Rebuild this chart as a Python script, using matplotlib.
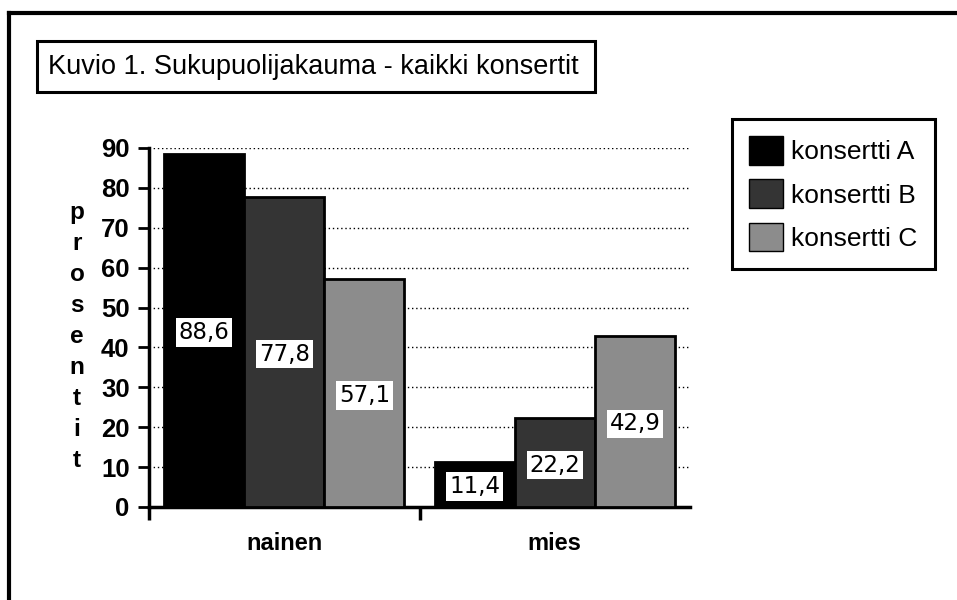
import matplotlib
matplotlib.use("Agg")
import matplotlib.pyplot as plt
import numpy as np
from matplotlib.patches import Rectangle, Patch
from matplotlib.lines import Line2D

categories = ["nainen", "mies"]
series_names = ["konsertti A", "konsertti B", "konsertti C"]
values_a = [88.6, 11.4]
values_b = [77.8, 22.2]
values_c = [57.1, 42.9]
value_labels_a = ["88,6", "11,4"]
value_labels_b = ["77,8", "22,2"]
value_labels_c = ["57,1", "42,9"]
y_ticks = [0, 10, 20, 30, 40, 50, 60, 70, 80, 90]
title = "Kuvio 1. Sukupuolijakauma - kaikki konsertit"
y_label = "prosentit"

colors = ["#000000", "#343434", "#8c8c8c"]

plt.rcParams["font.family"] = ["Liberation Sans", "DejaVu Sans"]

W, H = 957, 600
fig = plt.figure(figsize=(W / 100, H / 100), dpi=100)
ax = fig.add_axes([149 / W, 1 - 507 / H, (690 - 149) / W, (507 - 148) / H])

x = np.arange(len(categories))
width = 0.296
series = [values_a, values_b, values_c]
labels = [value_labels_a, value_labels_b, value_labels_c]

for i, (vals, labs) in enumerate(zip(series, labels)):
    pos = x + (i - 1) * width
    ax.bar(pos, vals, width, color=colors[i], edgecolor="black", linewidth=2, zorder=3)
    for p, v, lab in zip(pos, vals, labs):
        ax.text(p, v / 2 - 0.6, lab, ha="center", va="center", fontsize=16.5,
                family="DejaVu Sans", zorder=4,
                bbox=dict(facecolor="white", edgecolor="none", pad=2))

ax.set_xlim(-0.5, 1.5)
ax.set_ylim(0, 90)
ax.set_yticks(y_ticks)
ax.set_yticklabels([str(t) for t in y_ticks], fontsize=18.5, fontweight="bold")
ax.tick_params(axis="y", direction="out", length=8, width=2, pad=6)

ax.set_xticks(x)
ax.set_xticklabels(categories, fontsize=17, fontweight="bold")
ax.tick_params(axis="x", which="major", length=0, pad=18)
ax.set_xticks([-0.5, 0.5], minor=True)
ax.tick_params(axis="x", which="minor", direction="out", length=9, width=2.5)

ax.yaxis.grid(True, color="black", linestyle=(0, (1, 2)), linewidth=1, zorder=0)
ax.set_axisbelow(True)

for s in ["top", "right"]:
    ax.spines[s].set_visible(False)
for s in ["left", "bottom"]:
    ax.spines[s].set_linewidth(2.5)

ax.set_ylabel("\n".join(y_label), rotation=0, fontsize=17.5, fontweight="bold",
              linespacing=1.45, ha="center", va="center")
ax.yaxis.set_label_coords(-0.133, 0.475)

# legend
handles = [Patch(facecolor=c, edgecolor="black", linewidth=1) for c in colors]
leg = fig.legend(handles, series_names, loc="upper left",
                 bbox_to_anchor=(732 / W, 1 - 119 / H), fontsize=19,
                 frameon=True, fancybox=False, edgecolor="black", framealpha=1,
                 handlelength=1.3, handleheight=1.3, handletextpad=0.3,
                 labelspacing=0.55, borderpad=0.65, borderaxespad=0)
leg.get_frame().set_linewidth(2.2)

# title box
fig.add_artist(Rectangle((37 / W, 1 - 92 / H), (595 - 37) / W, (92 - 41) / H,
                         transform=fig.transFigure, facecolor="white",
                         edgecolor="black", linewidth=2.2))
fig.text(48 / W, 1 - 67 / H, title, fontsize=19.5, ha="left", va="center")

# outer frame (top and left edges)
fig.add_artist(Line2D([9 / W, 1], [1 - 13 / H, 1 - 13 / H], color="black", linewidth=3))
fig.add_artist(Line2D([9 / W, 9 / W], [0, 1 - 13 / H], color="black", linewidth=3))

fig.savefig("out.png", dpi=100)
